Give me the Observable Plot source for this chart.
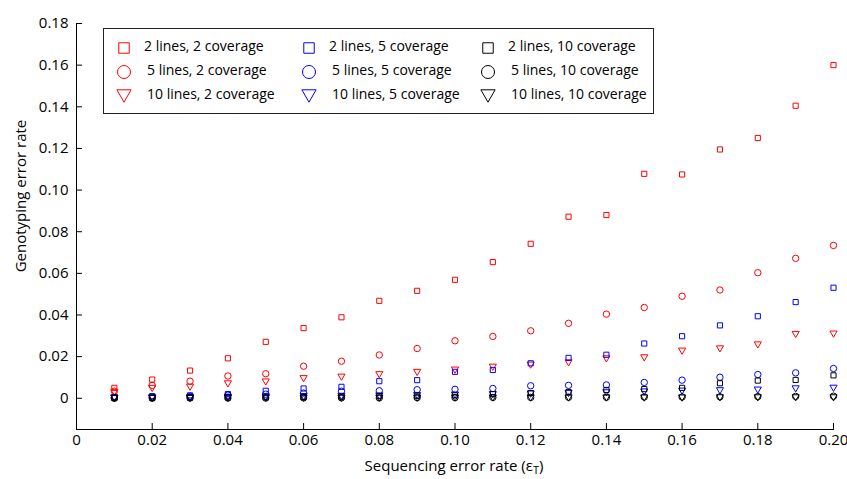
<!DOCTYPE html>
<html><head><meta charset="utf-8">
<script src="https://cdn.jsdelivr.net/npm/d3@7"></script>
<script src="https://cdn.jsdelivr.net/npm/@observablehq/plot@0.6"></script>
<style>
body{margin:0;background:#fff;font-family:"Open Sans",sans-serif;color:#000;}
#wrap{position:relative;width:847px;height:479px;overflow:hidden;}
#legend{position:absolute;left:103px;top:28px;width:549px;height:84px;border:1px solid #222;background:#fff;font-size:14px;}
.lg-item{position:absolute;white-space:nowrap;line-height:1;}
#ylabel{position:absolute;left:20px;top:196px;transform:translate(-50%,-50%) rotate(-90deg);font-size:15px;white-space:nowrap;}
#xlabel{position:absolute;left:454px;top:466px;transform:translate(-50%,-50%);font-size:15px;white-space:nowrap;}
#xlabel sub{font-size:11px;vertical-align:-3px;}
</style></head>
<body><div id="wrap"></div>
<script>
// ---- data ----
const errorRate = [0.01,0.02,0.03,0.04,0.05,0.06,0.07,0.08,0.09,0.10,0.11,0.12,0.13,0.14,0.15,0.16,0.17,0.18,0.19,0.20];
const lines2cov2  = [0.0050,0.0090,0.0133,0.0192,0.0271,0.0337,0.0389,0.0468,0.0516,0.0569,0.0654,0.0742,0.0872,0.0880,0.1078,0.1075,0.1195,0.1250,0.1405,0.1600];
const lines5cov2  = [0.0034,0.0062,0.0082,0.0107,0.0118,0.0154,0.0178,0.0208,0.0239,0.0276,0.0297,0.0324,0.0360,0.0404,0.0436,0.0490,0.0520,0.0603,0.0672,0.0734];
const lines10cov2 = [0.0028,0.0047,0.0053,0.0069,0.0078,0.0094,0.0101,0.0113,0.0124,0.0135,0.0149,0.0159,0.0170,0.0189,0.0194,0.0226,0.0237,0.0256,0.0306,0.0308];
const lines2cov5  = [0.0006,0.0010,0.0014,0.0020,0.0036,0.0047,0.0055,0.0082,0.0087,0.0127,0.0136,0.0168,0.0194,0.0209,0.0263,0.0298,0.0350,0.0394,0.0462,0.0531];
const lines5cov5  = [0.0003,0.0006,0.0009,0.0015,0.0020,0.0025,0.0034,0.0036,0.0041,0.0043,0.0047,0.0060,0.0062,0.0064,0.0076,0.0087,0.0101,0.0114,0.0122,0.0143];
const lines10cov5 = [0.0001,0.0002,0.0003,0.0005,0.0006,0.0008,0.0009,0.0011,0.0013,0.0015,0.0017,0.0020,0.0023,0.0026,0.0030,0.0034,0.0036,0.0039,0.0045,0.0048];
const lines2cov10 = [0.0001,0.0002,0.0003,0.0004,0.0005,0.0006,0.0008,0.0010,0.0012,0.0014,0.0020,0.0025,0.0030,0.0040,0.0044,0.0050,0.0072,0.0085,0.0088,0.0110];
const lines5cov10 = [0.0000,0.0000,0.0001,0.0001,0.0001,0.0002,0.0002,0.0002,0.0003,0.0003,0.0004,0.0004,0.0005,0.0005,0.0006,0.0006,0.0007,0.0008,0.0009,0.0010];
const lines10cov10= [0.0000,0.0000,0.0000,0.0000,0.0000,0.0000,0.0000,0.0000,0.0000,0.0001,0.0001,0.0001,0.0001,0.0001,0.0001,0.0001,0.0002,0.0002,0.0002,0.0002];

const seriesNames = ["2 lines, 2 coverage","5 lines, 2 coverage","10 lines, 2 coverage",
                     "2 lines, 5 coverage","5 lines, 5 coverage","10 lines, 5 coverage",
                     "2 lines, 10 coverage","5 lines, 10 coverage","10 lines, 10 coverage"];
const seriesValues = [lines2cov2,lines5cov2,lines10cov2,lines2cov5,lines5cov5,lines10cov5,lines2cov10,lines5cov10,lines10cov10];
const seriesColors = ["#ff0000","#ff0000","#ff0000","#0000ff","#0000ff","#0000ff","#000000","#000000","#000000"];
const seriesShapes = ["square","circle","triangle","square","circle","triangle","square","circle","triangle"];

const xTicks = [0,0.02,0.04,0.06,0.08,0.10,0.12,0.14,0.16,0.18,0.20];
const yTicks = [0,0.02,0.04,0.06,0.08,0.10,0.12,0.14,0.16,0.18];

// ---- symbols ----
const triDown = {draw(ctx, size){ const r = Math.sqrt(size/Math.PI); const hw = 1.15*r;
  ctx.moveTo(-hw,-r); ctx.lineTo(hw,-r); ctx.lineTo(0,r); ctx.closePath(); }};
const symbolFor = {square: d3.symbolSquare, circle: d3.symbolCircle, triangle: triDown};
const radiusFor = {square: 2.9, circle: 3.2, triangle: 3.1};

const fmt = d => d === 0 ? "0" : d.toFixed(2);

const rows = seriesNames.map((name, k) => seriesValues[k].map((v, i) => ({x: errorRate[i], y: v, series: name})));

const chart = Plot.plot({
  width: 847, height: 479,
  marginLeft: 76, marginRight: 14, marginTop: 23, marginBottom: 50,
  style: {fontFamily: "Open Sans, sans-serif", fontSize: "15px", color: "#000", background: "white", overflow: "visible"},
  x: {domain: [0, 0.2], ticks: xTicks, tickFormat: fmt, label: null, tickSize: -6, tickPadding: 11, line: true},
  y: {domain: [-0.015, 0.18], ticks: yTicks, tickFormat: fmt, label: null, tickSize: -6, tickPadding: 14, line: true},
  marks: rows.map((data, k) => Plot.dot(data, {
    x: "x", y: "y", symbol: symbolFor[seriesShapes[k]], r: radiusFor[seriesShapes[k]],
    stroke: seriesColors[k], fill: "none", strokeWidth: 1
  }))
});

const wrap = document.getElementById("wrap");
wrap.appendChild(chart);

// ---- labels ----
const yl = document.createElement("div"); yl.id = "ylabel"; yl.textContent = "Genotyping error rate"; wrap.appendChild(yl);
const xl = document.createElement("div"); xl.id = "xlabel"; xl.innerHTML = "Sequencing error rate (ε<sub>T</sub>)"; wrap.appendChild(xl);

// ---- legend ----
const legend = document.createElement("div"); legend.id = "legend"; wrap.appendChild(legend);
const colX = [20, 205, 384];
const legR = {square: 5.9, circle: 6.5, triangle: 6.2};
seriesNames.forEach((name, k) => {
  const col = Math.floor(k / 3), row = k % 3;
  const cx = colX[col], cy = 19 + 24 * row;
  const svg = d3.create("svg").attr("width", 20).attr("height", 20)
    .style("position", "absolute").style("left", (cx - 10) + "px").style("top", (cy - 10) + "px").style("overflow", "visible");
  const shape = seriesShapes[k];
  const r = legR[shape];
  svg.append("path").attr("transform", "translate(10,10)")
    .attr("d", d3.symbol(symbolFor[shape], Math.PI * r * r)())
    .attr("fill", "none").attr("stroke", seriesColors[k]).attr("stroke-width", 1);
  legend.appendChild(svg.node());
  const t = document.createElement("div"); t.className = "lg-item"; t.textContent = name;
  t.style.left = (cx + 20 + (row > 0 ? 3 : 0)) + "px"; t.style.top = (cy - 9) + "px";
  legend.appendChild(t);
});
</script>
</body></html>
